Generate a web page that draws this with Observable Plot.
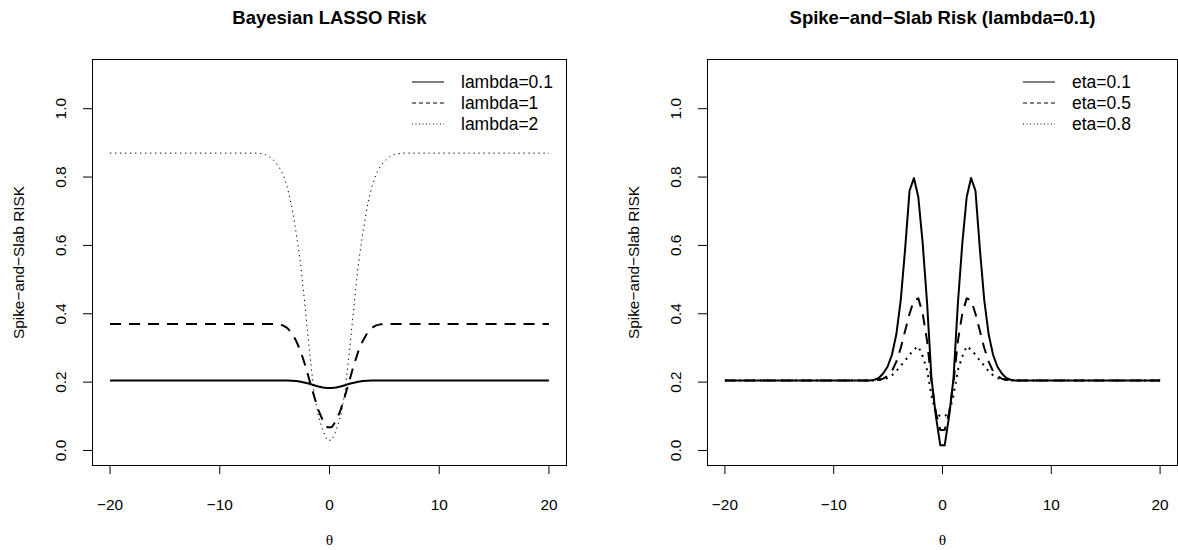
<!DOCTYPE html>
<html><head><meta charset="utf-8">
<script src="https://cdn.jsdelivr.net/npm/d3@7"></script>
<script src="https://cdn.jsdelivr.net/npm/@observablehq/plot@0.6"></script>
<style>
body{margin:0;background:#fff;}
#wrap{position:relative;width:1178px;height:550px;overflow:hidden;font-family:"Liberation Sans",Arial,sans-serif;}
#wrap svg{position:absolute;top:0;}
</style></head><body><div id="wrap"></div>
<script>
// ---- data ----
const theta = [-20, -7.071, -6.667, -6.263, -5.859, -5.455, -5.051, -4.646, -4.242, -3.838, -3.434, -3.030, -2.626, -2.222, -1.818, -1.414, -1.010, -0.606, -0.202,
  0.202, 0.606, 1.010, 1.414, 1.818, 2.222, 2.626, 3.030, 3.434, 3.838, 4.242, 4.646, 5.051, 5.455, 5.859, 6.263, 6.667, 7.071, 20];

const lassoLambda01 = [0.205,0.205,0.205,0.205,0.205,0.205,0.205,0.205,0.205,0.205,0.204,0.203,0.201,0.198,0.195,0.191,0.187,0.184,0.183,
  0.183,0.184,0.187,0.191,0.195,0.198,0.201,0.203,0.204,0.205,0.205,0.205,0.205,0.205,0.205,0.205,0.205,0.205,0.205];
const lassoLambda1 = [0.370,0.370,0.370,0.370,0.370,0.370,0.370,0.369,0.366,0.358,0.343,0.320,0.290,0.250,0.205,0.160,0.118,0.087,0.068,
  0.068,0.087,0.118,0.160,0.205,0.250,0.290,0.320,0.343,0.358,0.366,0.369,0.370,0.370,0.370,0.370,0.370,0.370,0.370];
const lassoLambda2 = [0.870,0.870,0.870,0.869,0.866,0.859,0.848,0.832,0.808,0.770,0.712,0.635,0.545,0.420,0.290,0.170,0.100,0.058,0.030,
  0.030,0.058,0.100,0.170,0.290,0.420,0.545,0.635,0.712,0.770,0.808,0.832,0.848,0.859,0.866,0.869,0.870,0.870,0.870];

const slabEta01 = [0.205,0.205,0.205,0.207,0.212,0.225,0.245,0.280,0.340,0.440,0.590,0.760,0.797,0.741,0.605,0.430,0.210,0.100,0.015,
  0.015,0.100,0.210,0.430,0.605,0.741,0.797,0.760,0.590,0.440,0.340,0.280,0.245,0.225,0.212,0.207,0.205,0.205,0.205];
const slabEta05 = [0.205,0.205,0.205,0.205,0.207,0.210,0.218,0.232,0.260,0.300,0.350,0.400,0.440,0.445,0.400,0.320,0.200,0.110,0.060,
  0.060,0.110,0.200,0.320,0.400,0.445,0.440,0.400,0.350,0.300,0.260,0.232,0.218,0.210,0.207,0.205,0.205,0.205,0.205];
const slabEta08 = [0.205,0.205,0.205,0.205,0.206,0.208,0.212,0.220,0.232,0.248,0.263,0.280,0.295,0.305,0.275,0.235,0.160,0.110,0.100,
  0.100,0.110,0.160,0.235,0.275,0.305,0.295,0.280,0.263,0.248,0.232,0.220,0.212,0.208,0.206,0.205,0.205,0.205,0.205];

const xTicks = [-20, -10, 0, 10, 20];
const yTicks = [0, 0.2, 0.4, 0.6, 0.8, 1.0];
const yLabel = "Spike\u2212and\u2212Slab RISK";
const xLabel = "\u03b8";
const titles = ["Bayesian LASSO Risk", "Spike\u2212and\u2212Slab Risk (lambda=0.1)"];
const lassoLabels = ["lambda=0.1", "lambda=1", "lambda=2"];
const slabLabels = ["eta=0.1", "eta=0.5", "eta=0.8"];

// ---- drawing ----
const FONT = "Liberation Sans, Arial, sans-serif";
const FS = 15.4;
const LEGEND_FS = 17.5;
const fmtX = d => d < 0 ? "\u2212" + Math.abs(d) : String(d);

function panel({title, series, labels, legendStyles, left, marginLeft, marginRight}) {
  const W = 589;
  const marks = [
    Plot.frame({stroke: "black", strokeWidth: 1}),
    Plot.axisX({ticks: xTicks, tickSize: 9, tickFormat: () => "", label: null, stroke: "black"}),
    Plot.axisY({ticks: yTicks, tickSize: 9, tickFormat: () => "", label: null, stroke: "black"}),
    Plot.text(xTicks, {x: d => d, text: fmtX, frameAnchor: "bottom", dy: 40, lineAnchor: "middle", fontSize: FS, fill: "black"}),
    Plot.text(yTicks, {y: d => d, text: d => d.toFixed(1), frameAnchor: "left", dx: -31, rotate: -90, textAnchor: "middle", lineAnchor: "middle", fontSize: FS, fill: "black"}),
    Plot.text([yLabel], {frameAnchor: "left", dx: -73, rotate: -90, textAnchor: "middle", lineAnchor: "middle", fontSize: FS, fill: "black"}),
    Plot.text([xLabel], {frameAnchor: "bottom", dy: 75, lineAnchor: "middle", fontSize: FS, fontFamily: "Liberation Serif, DejaVu Serif, serif", fill: "black"}),
    Plot.text([title], {frameAnchor: "top", dy: -41, lineAnchor: "middle", fontSize: 18.5, fontWeight: "bold", fill: "black"})
  ];
  series.forEach((s) => {
    const rows = theta.map((t, i) => ({theta: t, risk: s.values[i]}));
    marks.push(Plot.line(rows, {x: "theta", y: "risk", stroke: "black", strokeWidth: s.width,
      strokeDasharray: s.dash, strokeLinecap: "butt", strokeLinejoin: "round"}));
  });
  const svg = Plot.plot({
    width: W, height: 550,
    marginLeft, marginRight, marginTop: 59, marginBottom: 85,
    x: {domain: [-21.6, 21.6]},
    y: {domain: [-0.044, 1.144]},
    style: {fontFamily: FONT, background: "white", color: "black"},
    marks
  });
  svg.style.left = left + "px";
  // legend (top-right, inside frame, no box)
  const frameRight = W - marginRight;
  const g = d3.select(svg).append("g")
    .attr("font-family", FONT).attr("font-size", LEGEND_FS).attr("text-anchor", "start");
  const rowsY = [82, 103, 124];
  labels.forEach((lab, i) => {
    const st = legendStyles[i];
    g.append("line").attr("x1", frameRight - 154).attr("x2", frameRight - 122)
      .attr("y1", rowsY[i]).attr("y2", rowsY[i]).attr("stroke", "black")
      .attr("stroke-width", st.width).attr("stroke-dasharray", st.dash);
    g.append("text").attr("x", frameRight - 105).attr("y", rowsY[i]).attr("dy", "0.32em")
      .attr("text-anchor", "start").style("font-size", LEGEND_FS + "px")
      .attr("fill", "black").text(lab);
  });
  return svg;
}

const wrap = document.getElementById("wrap");
wrap.appendChild(panel({
  title: titles[0],
  series: [
    {values: lassoLambda01, width: 2, dash: null},
    {values: lassoLambda1, width: 2, dash: "11,8"},
    {values: lassoLambda2, width: 1, dash: "1.3,3.7"}
  ],
  labels: lassoLabels,
  legendStyles: [{width: 1, dash: null}, {width: 1, dash: "4,3"}, {width: 1, dash: "1,2.5"}],
  left: 0, marginLeft: 92, marginRight: 23
}));
wrap.appendChild(panel({
  title: titles[1],
  series: [
    {values: slabEta01, width: 2, dash: null},
    {values: slabEta05, width: 2, dash: "11,8"},
    {values: slabEta08, width: 2, dash: "2,5"}
  ],
  labels: slabLabels,
  legendStyles: [{width: 1, dash: null}, {width: 1, dash: "4,3"}, {width: 1, dash: "1,2.5"}],
  left: 589, marginLeft: 118, marginRight: 1
}));
</script></body></html>
